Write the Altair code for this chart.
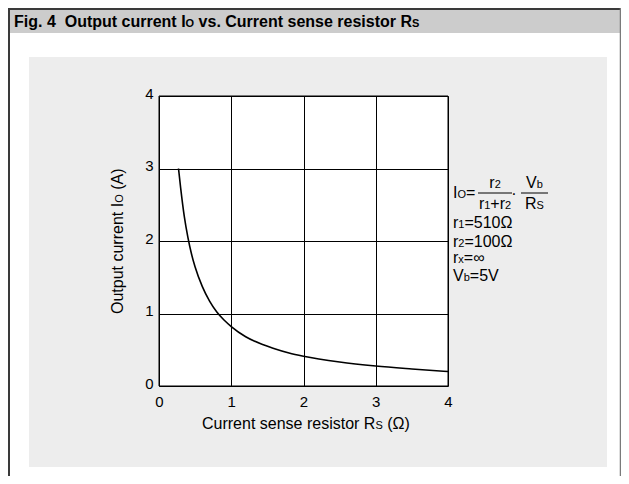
import altair as alt
import pandas as pd

# ---- data ----
rs_ohm = [0.27, 0.30, 0.35, 0.40, 0.45, 0.50, 0.60, 0.70, 0.80, 0.90, 1.00,
          1.20, 1.40, 1.60, 1.80, 2.00, 2.50, 3.00, 3.50, 4.00]
io_amp = [3.00, 2.73, 2.34, 2.05, 1.82, 1.64, 1.37, 1.17, 1.02, 0.91, 0.82,
          0.68, 0.585, 0.515, 0.455, 0.41, 0.33, 0.275, 0.235, 0.20]
x_ticks = [0, 1, 2, 3, 4]
y_ticks = [0, 1, 2, 3, 4]

FONT = "Liberation Sans"
TFONT = "Liberation Sans"

# plot origin in page pixels and plot size
OX, OY = 159, 96
W, H = 289, 290

# Arial-metric advance widths (per 1000 em) used to place sub-sized letters
W_REG = {' ': 278, '(': 333, ')': 333, '+': 584, '=': 584, '.': 278, 'A': 667,
         'C': 722, 'I': 278, 'O': 778, 'R': 722, 'S': 667, 'V': 667, 'a': 556,
         'b': 556, 'c': 500, 'e': 556, 'i': 222, 'n': 556, 'o': 556, 'p': 556,
         'r': 333, 's': 500, 't': 278, 'u': 556, 'v': 500, 'x': 500,
         '\u03a9': 768, '\u221e': 713}
W_BOLD = {' ': 278, '.': 278, 'F': 611, 'i': 278, 'g': 611, 'O': 778, 'u': 611,
          't': 333, 'p': 611, 'c': 556, 'r': 389, 'e': 556, 'n': 611, 'I': 278,
          'o': 611, 'v': 556, 's': 556, 'C': 722, 'R': 722, 'S': 667}


def tw(text, size, bold=False):
    tab = W_BOLD if bold else W_REG
    return sum(tab.get(c, 556) for c in text) * size / 1000.0


def compose(pieces, x0, y0, bold=False, vertical=False):
    """pieces: list of (text, size). Returns placed pieces (page coords)."""
    out = []
    pos = 0.0
    for text, size in pieces:
        lead = len(text) - len(text.lstrip(' '))
        pos += tw(' ' * lead, size, bold)
        t = text.lstrip(' ')
        if vertical:
            out.append((x0, y0 - pos, t, size, bold, 270))
        else:
            out.append((x0 + pos, y0, t, size, bold, 0))
        pos += tw(t, size, bold)
    return out


one = pd.DataFrame({"k": [0]})


def rect(x1, x2, y1, y2, fill, stroke=None, sw=0):
    kw = dict(fill=fill, strokeWidth=sw)
    if stroke is not None:
        kw["stroke"] = stroke
    return alt.Chart(one).mark_rect(**kw).encode(
        x=alt.value(x1 - OX), x2=alt.value(x2 - OX),
        y=alt.value(y1 - OY), y2=alt.value(y2 - OY))


def rule(x1, x2, y1, y2, color, sw):
    return alt.Chart(one).mark_rule(color=color, strokeWidth=sw).encode(
        x=alt.value(x1 - OX), x2=alt.value(x2 - OX),
        y=alt.value(y1 - OY), y2=alt.value(y2 - OY))


def text_layer(p, color="black", align="left"):
    x, y, t, size, bold, ang = p
    kw = dict(align=align, baseline="alphabetic", font=TFONT if bold else FONT,
              fontSize=size, color=color)
    if bold:
        kw["fontWeight"] = "bold"
    if ang:
        kw["angle"] = ang
    return alt.Chart(one).mark_text(**kw).encode(
        x=alt.value(x - OX), y=alt.value(y - OY), text=alt.value(t))


layers = []
# frame, title bar, light panel
layers.append(rect(29, 607, 57, 467, "#ededed"))
layers.append(rect(9, 620, 9, 33, "#cccccc"))
layers.append(rule(9, 9, 8, 476, "#3a3a3a", 2))
layers.append(rule(8, 621, 9, 9, "#3a3a3a", 2))
layers.append(rule(620.5, 620.5, 8, 476, "#7a7a7a", 1.5))
# plot area
layers.append(rect(OX, OX + W, OY, OY + H, "white", "black", 1))

axis_common = dict(domain=False, ticks=False, grid=True, gridColor="black",
                   gridOpacity=1, gridWidth=1, labelFont=FONT, labelFontSize=15,
                   labelColor="black", title=None, zindex=1)

curve_df = pd.DataFrame({"rs": rs_ohm, "io": io_amp})
curve = alt.Chart(curve_df).mark_line(color="black", strokeWidth=1.6,
                                      interpolate="monotone").encode(
    x=alt.X("rs:Q", scale=alt.Scale(domain=[0, 4], nice=False),
            axis=alt.Axis(values=x_ticks, labelPadding=8, format="d",
                          labelFlush=False, **axis_common)),
    y=alt.Y("io:Q", scale=alt.Scale(domain=[0, 4], nice=False),
            axis=alt.Axis(values=y_ticks, labelPadding=6, format="d",
                          labelFlush=False, labelOffset=-3, **axis_common)),
)
layers.append(curve)

TS, TSS = 16, 11
pieces = []
# figure title
pieces += compose([("Fig. 4", TS)], 14, 27, bold=True)
x_out = 14 + tw("Fig. 4  ", TS, True)
pieces += compose([("Output current I", TS), ("O", TSS),
                   (" vs. Current sense resistor R", TS), ("S", TSS)],
                  x_out, 27, bold=True)
# axis titles
pieces += compose([("Current sense resistor R", 16), ("S", 11), (" (\u03a9)", 16)],
                  202, 429)
pieces += compose([("Output current I", 16), ("O", 11), (" (A)", 16)],
                  123, 314, vertical=True)
# formula block
pieces += compose([("I", 16), ("O", 11), ("=", 16)], 453, 198)
pieces += compose([("r", 16), ("2", 11)], 489.3, 188)
pieces += compose([("r", 16), ("1", 11), ("+r", 16), ("2", 11)], 478.9, 209)
pieces += compose([("V", 16), ("b", 11)], 526.1, 188)
pieces += compose([("R", 16), ("S", 11)], 525.0, 209)
pieces += compose([("r", 16), ("1", 11), ("=510\u03a9", 16)], 453, 228)
pieces += compose([("r", 16), ("2", 11), ("=100\u03a9", 16)], 453, 247)
pieces += compose([("r", 16), ("x", 11), ("=\u221e", 16)], 453, 263)
pieces += compose([("V", 16), ("b", 11), ("=5V", 16)], 453, 281)

for p in pieces:
    layers.append(text_layer(p))

layers.append(text_layer((514, 199, "\u00b7", 16, False, 0), align="center"))
layers.append(rule(478, 512, 193, 193, "black", 1))
layers.append(rule(521, 548, 193, 193, "black", 1))

chart = alt.layer(*layers).properties(
    width=W, height=H,
    padding={"left": OX - 8, "top": OY - 8,
             "right": 613 - (OX - 8) - W, "bottom": 468 - (OY - 8) - H},
    autosize=alt.AutoSizeParams(type="none"),
    background="white",
).configure_view(stroke=None)

chart.save("out.html", embed_options={"renderer": "svg", "actions": False})
